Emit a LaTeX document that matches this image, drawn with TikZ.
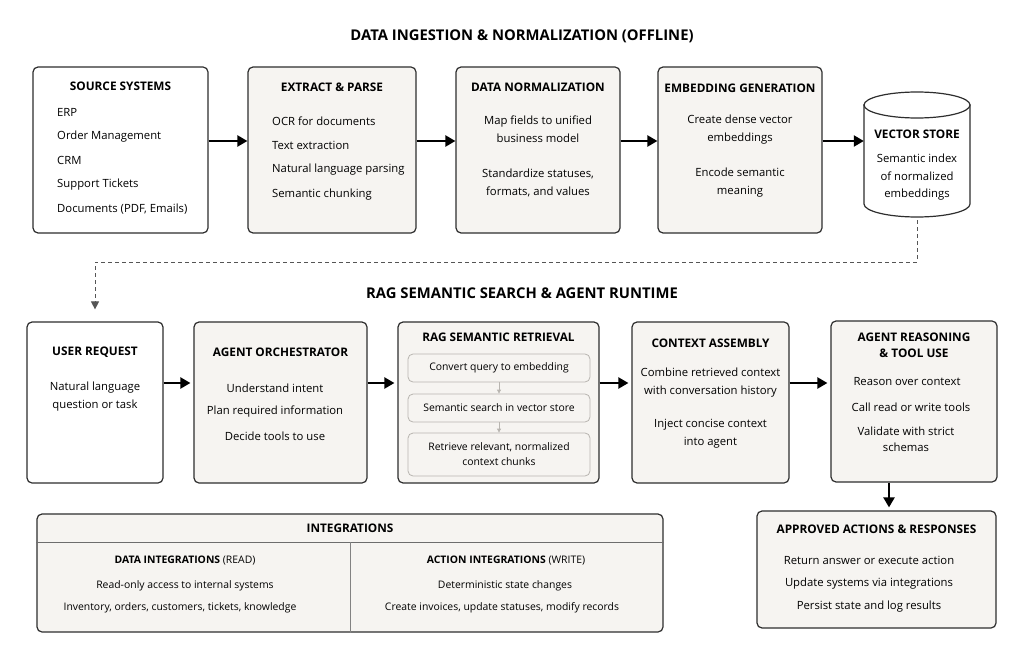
\documentclass[tikz,border=0pt]{standalone}
\usepackage{fontspec}
\setmainfont{Open Sans}
\usetikzlibrary{arrows.meta,positioning}
\definecolor{boxfill}{HTML}{F6F4F1}
\definecolor{boxline}{HTML}{2E2E2E}
\definecolor{innerline}{HTML}{B8B5B0}
\definecolor{dashgray}{HTML}{555555}

\tikzset{
  box/.style={draw=boxline, line width=1.2pt, rounded corners=5pt, fill=boxfill, inner sep=0pt},
  plainbox/.style={box, fill=white},
  innerbox/.style={draw=innerline, line width=0.8pt, rounded corners=5pt, fill=boxfill, inner sep=0pt},
  head/.style={font=\bfseries\fontsize{11.8}{16}\selectfont, align=center, inner sep=0pt},
  title/.style={font=\bfseries\fontsize{14.8}{17}\selectfont, inner sep=0pt},
  txt/.style={font=\fontsize{11.3}{18}\selectfont, align=center, inner sep=0pt},
  smalltxt/.style={font=\fontsize{10.4}{15}\selectfont, align=center, inner sep=0pt},
  flow/.style={line width=2.2pt, -{Triangle[length=10pt,width=11pt]}},
  substep/.style={line width=0.8pt, draw=innerline, -{Triangle[length=4pt,width=4pt]}},
  dashline/.style={line width=1pt, draw=dashgray, dash pattern=on 4pt off 3pt, -{Triangle[length=8pt,width=8pt]}},
}

\begin{document}
\begin{tikzpicture}[x=1pt, y=-1pt]
    \useasboundingbox (0,0) rectangle (1024,663);
    \fill[white] (0,0) rectangle (1024,663);

    % Titles
    \node[title] (t1) at (522,36) {DATA INGESTION \& NORMALIZATION (OFFLINE)};
    \node[title] (t2) at (522,293) {RAG SEMANTIC SEARCH \& AGENT RUNTIME};

    % Offline pipeline boxes
    \node[plainbox, minimum width=175, minimum height=166] (src) at (120.5,150) {};
    \node[box, minimum width=168, minimum height=166] (ext) at (332,150) {};
    \node[box, minimum width=164, minimum height=166] (norm) at (538,150) {};
    \node[box, minimum width=164, minimum height=166] (emb) at (740,150) {};
    \node[minimum width=106, minimum height=125, inner sep=0pt] (vs) at (917,154.5) {};

    % Draw the vector store cylinder
    \draw[line width=1.2pt, draw=boxline, fill=white] (864,105) -- (864,204)
        arc[start angle=180, end angle=0, x radius=53, y radius=13] -- (970,105) -- cycle;
    \draw[line width=1.2pt, draw=boxline, fill=white] (917,105) ellipse[x radius=53, y radius=13];

    % Source systems
    \node[head] (srch) at (120.5,86) {SOURCE SYSTEMS};
    \foreach \t [count=\i] in {ERP, Order Management, CRM, Support Tickets, {Documents (PDF, Emails)}}
        \node[txt, anchor=west] (src\i) at (57,{112+24.3*(\i-1)}) {\t};

    % Extract and parse
    \node[head] (exth) at (332,87) {EXTRACT \& PARSE};
    \foreach \t [count=\i] in {OCR for documents, Text extraction, Natural language parsing, Semantic chunking}
        \node[txt, anchor=west] (ext\i) at (272,{121+24.5*(\i-1)}) {\t};

    % Normalization and embeddings
    \node[head] (normh) at (538,87) {DATA NORMALIZATION};
    \node[txt] (norm1) at (538,129) {Map fields to unified\\business model};
    \node[txt] (norm2) at (538,183) {Standardize statuses,\\formats, and values};
    \node[head] (embh) at (740,88) {EMBEDDING GENERATION};
    \node[txt] (emb1) at (740,130) {Create dense vector\\embeddings};
    \node[txt] (emb2) at (740,183) {Encode semantic\\meaning};
    \node[head] (vsh) at (917,134) {VECTOR STORE};
    \node[txt, font=\fontsize{11.3}{17.5}\selectfont] (vs1) at (917,177.5) {Semantic index\\of normalized\\embeddings};

    % Offline arrows
    \draw[flow] ([yshift=9pt]src.east) -- ([yshift=9pt]ext.west);
    \draw[flow] ([yshift=9pt]ext.east) -- ([yshift=9pt]norm.west);
    \draw[flow] ([yshift=9pt]norm.east) -- ([yshift=9pt]emb.west);
    \draw[flow] ([yshift=9pt]emb.east) -- ([yshift=13.5pt]vs.west);

    % Runtime boxes
    \node[plainbox, minimum width=136, minimum height=161] (usr) at (95,402.5) {};
    \node[box, minimum width=173, minimum height=161] (orch) at (280.5,402.5) {};
    \node[box, minimum width=201, minimum height=161] (rag) at (498.5,402.5) {};
    \node[box, minimum width=157, minimum height=161] (ctx) at (710.5,402.5) {};
    \node[box, minimum width=166, minimum height=161] (agt) at (914,401.5) {};
    \node[box, minimum width=239, minimum height=117] (appr) at (876.5,569.5) {};

    % Feed from the vector store to the user request
    \coordinate (bend) at (95,262);
    \draw[dashline, shorten <=3pt, shorten >=12pt] (vs.south) |- (bend) -- (usr.north);

    % User request and orchestrator
    \node[head] (usrh) at (95,352) {USER REQUEST};
    \node[txt] (usr1) at (95,397) {Natural language\\question or task};
    \node[head] (orchh) at (280.5,352) {AGENT ORCHESTRATOR};
    \foreach \t [count=\i] in {Understand intent, Plan required information, Decide tools to use}
        \node[txt] (orch\i) at (275,{388+24*(\i-1)}) {\t};

    % RAG retrieval with its three steps
    \node[head] (ragh) at (498.5,337) {RAG SEMANTIC RETRIEVAL};
    \node[innerbox, minimum width=182, minimum height=28] (rag1) at (499,368) {};
    \node[innerbox, minimum width=182, minimum height=28] (rag2) at (499,408) {};
    \node[innerbox, minimum width=182, minimum height=43] (rag3) at (499,454.5) {};
    \node[smalltxt] (rag1t) at (rag1) {Convert query to embedding};
    \node[smalltxt] (rag2t) at (rag2) {Semantic search in vector store};
    \node[smalltxt] (rag3t) at (rag3) {Retrieve relevant, normalized\\context chunks};
    \draw[substep] (rag1) -- (rag2);
    \draw[substep] (rag2) -- (rag3);

    % Context assembly
    \node[head] (ctxh) at (710.5,343) {CONTEXT ASSEMBLY};
    \node[txt] (ctx1) at (710.5,383) {Combine retrieved context\\with conversation history};
    \node[txt] (ctx2) at (710.5,434) {Inject concise context\\into agent};

    % Agent reasoning
    \node[head] (agth) at (914,345) {AGENT REASONING\\\& TOOL USE};
    \node[txt] (agt1) at (907,382) {Reason over context};
    \node[txt] (agt2) at (911,407) {Call read or write tools};
    \node[txt, font=\fontsize{11.3}{16}\selectfont] (agt3) at (906,439) {Validate with strict\\schemas};

    % Approved actions
    \node[head] (apprh) at (876.5,529) {APPROVED ACTIONS \& RESPONSES};
    \foreach \t [count=\i] in {Return answer or execute action, Update systems via integrations, Persist state and log results}
        \node[txt] (appr\i) at (869,{560+23.5*(\i-1)}) {\t};

    % Runtime arrows
    \draw[flow, shorten >=3pt] ([yshift=19.5pt]usr.east) -- ([yshift=19.5pt]orch.west);
    \draw[flow, shorten >=3pt] ([yshift=19.5pt]orch.east) -- ([yshift=19.5pt]rag.west);
    \draw[flow, shorten >=3pt] ([yshift=19.5pt]rag.east) -- ([yshift=19.5pt]ctx.west);
    \draw[flow, shorten >=3pt] ([yshift=19.5pt]ctx.east) -- ([yshift=18.5pt]agt.west);
    \draw[flow, shorten >=3pt] ([xshift=-25pt]agt.south) -- (appr.north -| 889,0);

    % Integrations panel
    \node[box, minimum width=626, minimum height=118] (integ) at (350,573) {};
    \draw[line width=0.8pt, draw=boxline!70] ([yshift=-29pt]integ.north west) -- ([yshift=-29pt]integ.north east);
    \draw[line width=0.8pt, draw=boxline!60] ([yshift=-29pt]integ.north) -- (integ.south);
    \node[head] (integh) at (350,528) {INTEGRATIONS};
    \node[smalltxt] (readh) at (185,561) {\textbf{DATA INTEGRATIONS} (READ)};
    \node[smalltxt] (read1) at (185,586) {Read-only access to internal systems};
    \node[smalltxt] (read2) at (180,608) {Inventory, orders, customers, tickets, knowledge};
    \node[smalltxt] (writeh) at (506,561) {\textbf{ACTION INTEGRATIONS} (WRITE)};
    \node[smalltxt] (write1) at (505,586) {Deterministic state changes};
    \node[smalltxt] (write2) at (502,608) {Create invoices, update statuses, modify records};
\end{tikzpicture}
\end{document}
